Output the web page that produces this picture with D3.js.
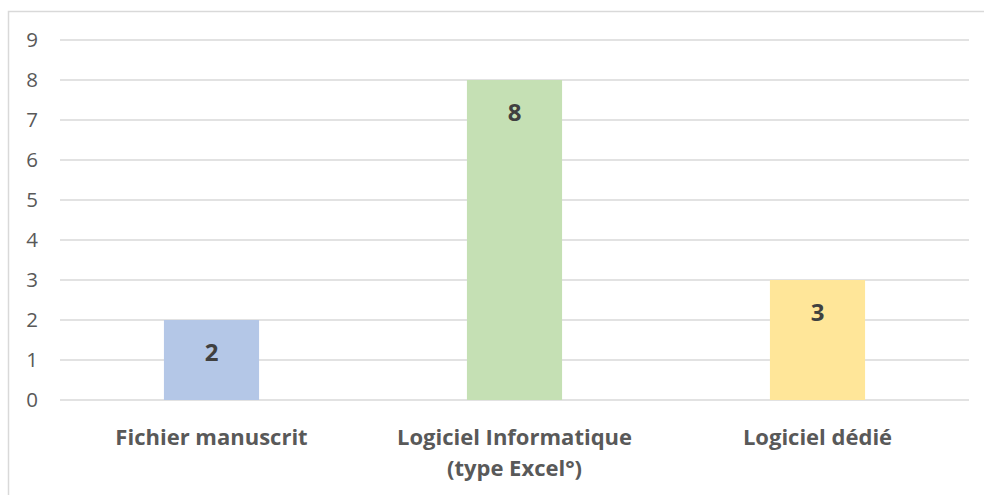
<!DOCTYPE html>
<html>
<head>
<meta charset="utf-8">
<script src="https://cdn.jsdelivr.net/npm/d3@7"></script>
<style>
  body { margin: 0; background: #fff; }
  text { font-family: "Open Sans", sans-serif; }
</style>
</head>
<body>
<script>
// data
var categories = ["Fichier manuscrit", "Logiciel Informatique (type Excel°)", "Logiciel dédié"];
var labelLines = [["Fichier manuscrit"], ["Logiciel Informatique", "(type Excel°)"], ["Logiciel dédié"]];
var values = [2, 8, 3];
var colors = ["#B4C7E7", "#C5E0B4", "#FFE699"];
var yTicks = [0, 1, 2, 3, 4, 5, 6, 7, 8, 9];

var W = 984, H = 495;
var margin = {top: 40, right: 15, bottom: 95, left: 60},
    width = W - margin.left - margin.right,
    height = H - margin.top - margin.bottom;

var svg = d3.select("body").append("svg")
    .attr("width", W)
    .attr("height", H);

// chart border (top and left visible)
svg.append("path")
    .attr("d", "M8.5," + H + "V11.5H" + W)
    .attr("fill", "none")
    .attr("stroke", "#D9D9D9")
    .attr("stroke-width", 1.5);

var g = svg.append("g")
    .attr("transform", "translate(" + margin.left + "," + margin.top + ")");

var x = d3.scaleBand()
    .domain(categories)
    .range([0, width])
    .paddingInner(0.686)
    .paddingOuter(0.343);

var y = d3.scaleLinear().domain([0, 9]).range([height, 0]);

// gridlines
g.append("g")
  .selectAll("line")
  .data(yTicks)
  .enter().append("line")
    .attr("x1", 0)
    .attr("x2", width)
    .attr("y1", function(d) { return Math.round(y(d)); })
    .attr("y2", function(d) { return Math.round(y(d)); })
    .attr("stroke", "#D9D9D9")
    .attr("stroke-width", 1.5);

// y axis
var yAxis = g.append("g")
    .call(d3.axisLeft(y).tickValues(yTicks).tickSize(0).tickPadding(22));
yAxis.select(".domain").remove();
yAxis.selectAll("text")
    .attr("fill", "#595959")
    .style("font-size", "20.5px")
    .style("font-family", "'Open Sans', sans-serif");

// bars
g.selectAll(".bar")
    .data(values)
  .enter().append("rect")
    .attr("class", "bar")
    .attr("x", function(d, i) { return x(categories[i]); })
    .attr("width", x.bandwidth())
    .attr("y", function(d) { return y(d); })
    .attr("height", function(d) { return height - y(d); })
    .attr("fill", function(d, i) { return colors[i]; });

// value labels
g.selectAll(".val")
    .data(values)
  .enter().append("text")
    .attr("class", "val")
    .attr("x", function(d, i) { return x(categories[i]) + x.bandwidth() / 2; })
    .attr("y", function(d) { return y(d) + 41; })
    .attr("text-anchor", "middle")
    .attr("fill", "#404040")
    .style("font-size", "24px")
    .style("font-weight", "bold")
    .text(function(d) { return d; });

// x axis labels
var xl = g.selectAll(".xl")
    .data(labelLines)
  .enter().append("text")
    .attr("class", "xl")
    .attr("text-anchor", "middle")
    .attr("fill", "#595959")
    .style("font-size", "22px")
    .style("font-weight", "bold")
    .attr("transform", function(d, i) {
      return "translate(" + (x(categories[i]) + x.bandwidth() / 2) + "," + (height + 45) + ")";
    });
xl.selectAll("tspan")
    .data(function(d) { return d; })
  .enter().append("tspan")
    .attr("x", 0)
    .attr("dy", function(d, i) { return i === 0 ? 0 : 31; })
    .text(function(d) { return d; });
</script>
</body>
</html>
